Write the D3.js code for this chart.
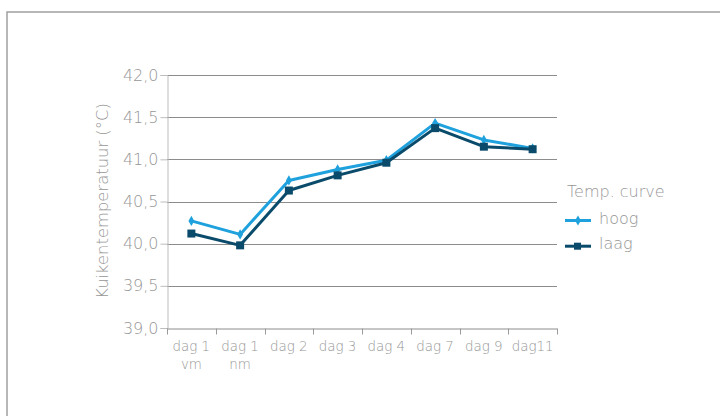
<!DOCTYPE html>
<html><head><meta charset="utf-8">
<script src="https://cdn.jsdelivr.net/npm/d3@7/dist/d3.min.js"></script>
<style>body{margin:0;background:#fff}svg{display:block;font-family:"DejaVu Sans",sans-serif}</style>
</head><body><svg id="c" width="720" height="416"></svg>
<script>
const categories = [["dag 1","vm"],["dag 1","nm"],["dag 2"],["dag 3"],["dag 4"],["dag 7"],["dag 9"],["dag11"]];
const hoog = [40.27, 40.11, 40.75, 40.88, 40.99, 41.43, 41.23, 41.13];
const laag = [40.12, 39.98, 40.63, 40.81, 40.96, 41.37, 41.15, 41.12];
const yTicks = [39.0, 39.5, 40.0, 40.5, 41.0, 41.5, 42.0];
const seriesNames = ["hoog","laag"];
const legendTitle = "Temp. curve";
const yTitle = "Kuikentemperatuur (°C)";

const svg = d3.select("#c");
const pL = 167, pR = 557, pT = 75, pB = 328;
const colors = {hoog:"#1ea1dc", laag:"#0a4b6b"};
const textCol = "#969696";
const FF = "DejaVu Sans", FW = 200;

// frame
svg.append("path").attr("d","M7,430 L7,12 L730,12").attr("fill","none").attr("stroke","#a0a0a0").attr("stroke-width",1.5);

const x = d3.scaleBand().domain(d3.range(categories.length)).range([pL,pR]).padding(0);
const y = d3.scaleLinear().domain([39,42]).range([pB,pT]);

// grid
svg.append("g").selectAll("line").data(yTicks.slice(1)).join("line")
  .attr("x1",pL).attr("x2",pR).attr("y1",d=>Math.round(y(d))+0.5).attr("y2",d=>Math.round(y(d))+0.5)
  .attr("stroke","#8c8c8c").attr("stroke-width",1);

// y axis
const fmt = d => d.toFixed(1).replace(".",",");
const ya = svg.append("g").attr("transform",`translate(${pL+0.5},0)`)
  .call(d3.axisLeft(y).tickValues(yTicks).tickFormat(fmt).tickSize(7).tickPadding(2));
ya.select(".domain").attr("stroke","#bdbdbd");
ya.selectAll(".tick line").attr("stroke","#bdbdbd");
ya.selectAll(".tick text").attr("fill",textCol).attr("font-size",16).attr("font-weight",FW).attr("font-family",FF);

// x axis
const xa = svg.append("g").attr("transform",`translate(0,${pB+0.5})`)
  .call(d3.axisBottom(x).tickValues([]).tickSizeOuter(0));
xa.select(".domain").attr("stroke","#8c8c8c");
const tickPos = d3.range(categories.length+1).map(i => pL + i*x.step());
xa.selectAll("line.t").data(tickPos).join("line").attr("class","t")
  .attr("x1",d=>Math.round(d)+0.5).attr("x2",d=>Math.round(d)+0.5).attr("y1",0).attr("y2",6).attr("stroke","#9a9a9a");
const xl = svg.append("g").selectAll("text").data(categories).join("text")
  .attr("x",(d,i)=>x(i)+x.bandwidth()/2).attr("y",351).attr("text-anchor","middle")
  .attr("fill",textCol).attr("font-size",13.4).attr("font-weight",FW).attr("font-family",FF);
xl.each(function(d){ const tx=d3.select(this).attr("x"); d3.select(this).selectAll("tspan").data(d).join("tspan")
  .attr("x",tx).attr("dy",(t,j)=>j?18:0).text(t=>t); });

// y title
svg.append("text").attr("transform",`translate(108,201) rotate(-90)`).attr("text-anchor","middle")
  .attr("fill",textCol).attr("font-size",16.4).attr("font-weight",FW).attr("font-family",FF).text(yTitle);

// lines
const data = {hoog, laag};
const line = d3.line().x((d,i)=>x(i)+x.bandwidth()/2).y(d=>y(d));
["hoog","laag"].forEach(s=>{
  svg.append("path").datum(data[s]).attr("d",line).attr("fill","none")
    .attr("stroke",colors[s]).attr("stroke-width",3).attr("stroke-linejoin","round");
});
// markers
svg.append("g").selectAll("path").data(hoog).join("path")
  .attr("transform",(d,i)=>`translate(${x(i)+x.bandwidth()/2},${y(d)})`)
  .attr("d",d3.symbol(d3.symbolDiamond,30)).attr("fill",colors.hoog);
svg.append("g").selectAll("rect").data(laag).join("rect")
  .attr("x",(d,i)=>x(i)+x.bandwidth()/2-4).attr("y",d=>y(d)-4).attr("width",8).attr("height",8).attr("fill",colors.laag);

// legend
svg.append("text").attr("x",567).attr("y",197).attr("fill",textCol).attr("font-size",16).attr("font-weight",FW)
  .attr("font-family",FF).text(legendTitle);
seriesNames.forEach((s,i)=>{
  const ly = 220.5 + i*25.7;
  svg.append("line").attr("x1",565).attr("x2",591).attr("y1",ly).attr("y2",ly).attr("stroke",colors[s]).attr("stroke-width",3);
  if(s==="laag") svg.append("rect").attr("x",574).attr("y",ly-3.5).attr("width",7).attr("height",7).attr("fill",colors[s]);
  else svg.append("path").attr("transform",`translate(578,${ly})`).attr("d",d3.symbol(d3.symbolDiamond,30)).attr("fill",colors[s]);
  svg.append("text").attr("x",599).attr("y",ly+3).attr("fill",textCol).attr("font-size",16).attr("font-weight",FW)
    .attr("font-family",FF).text(s);
});
</script></body></html>
